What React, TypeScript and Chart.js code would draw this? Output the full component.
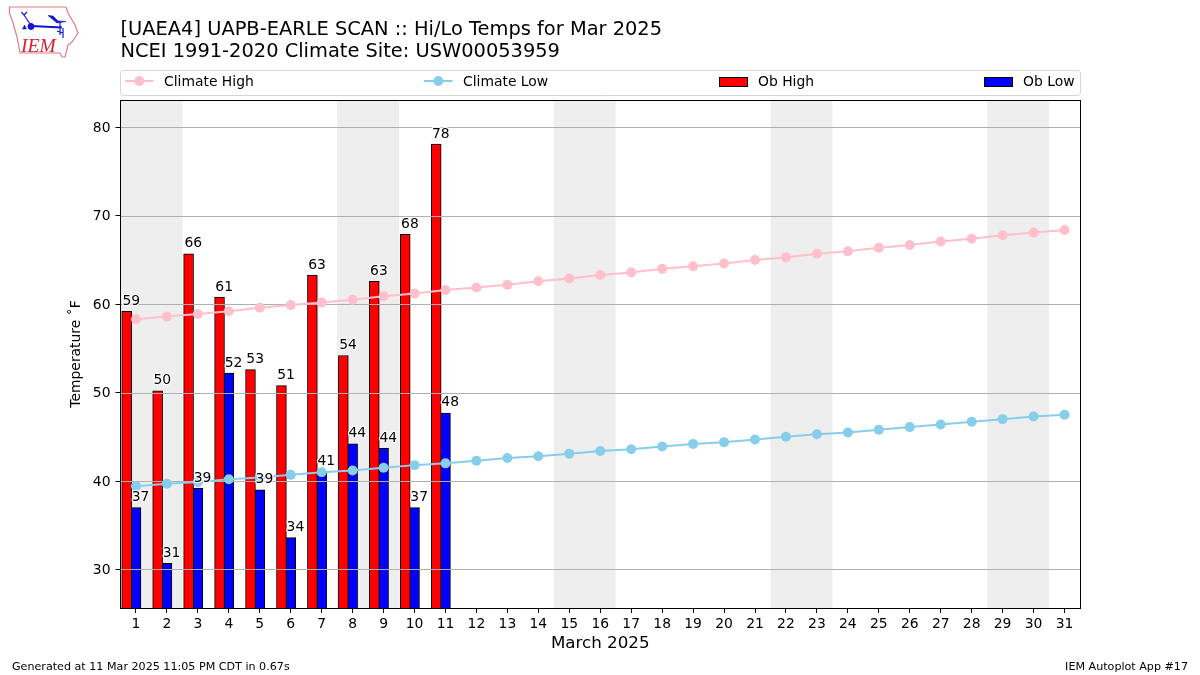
import React, { useEffect, useRef } from "react";
import { Chart, registerables } from "chart.js";

Chart.register(...registerables);

const FONT = "'DejaVu Sans', sans-serif";

const titleLines = [
  "[UAEA4] UAPB-EARLE SCAN :: Hi/Lo Temps for Mar 2025",
  "NCEI 1991-2020 Climate Site: USW00053959",
];
const footerLeft = "Generated at 11 Mar 2025 11:05 PM CDT in 0.67s";
const footerRight = "IEM Autoplot App #17";
const xTitle = "March 2025";
const yTitle = "Temperature ˚F";

const days = [1, 2, 3, 4, 5, 6, 7, 8, 9, 10, 11, 12, 13, 14, 15, 16, 17, 18, 19, 20, 21, 22, 23, 24, 25, 26, 27, 28, 29, 30, 31];
const yTicks = [30, 40, 50, 60, 70, 80];
const weekendStarts = [1, 8, 15, 22, 29];

const climateHigh = [58.3, 58.6, 58.9, 59.2, 59.6, 59.9, 60.2, 60.5, 60.9, 61.2, 61.6, 61.9, 62.2, 62.6, 62.9, 63.3, 63.6, 64.0, 64.3, 64.6, 65.0, 65.3, 65.7, 66.0, 66.4, 66.7, 67.1, 67.4, 67.8, 68.1, 68.4];
const climateLow = [39.4, 39.7, 39.9, 40.2, 40.4, 40.7, 41.0, 41.2, 41.5, 41.8, 42.0, 42.3, 42.6, 42.8, 43.1, 43.4, 43.6, 43.9, 44.2, 44.4, 44.7, 45.0, 45.3, 45.5, 45.8, 46.1, 46.4, 46.7, 47.0, 47.3, 47.5];
const obHigh = [59.2, 50.2, 65.7, 60.8, 52.6, 50.8, 63.3, 54.2, 62.6, 67.9, 78.1];
const obLow = [37.0, 30.7, 39.2, 52.2, 39.0, 33.6, 41.1, 44.2, 43.7, 37.0, 47.7];
const obHighLabels = [59, 50, 66, 61, 53, 51, 63, 54, 63, 68, 78];
const obLowLabels = [37, 31, 39, 52, 39, 34, 41, 44, 44, 37, 48];

const HIGH_SHIFT = -0.3;
const LABEL_SHIFT = 0.15;

const iemPlugin = {
  id: "iemDecor",
  beforeDraw(chart: any) {
    const { ctx, chartArea: a, scales } = chart;
    ctx.save();
    ctx.fillStyle = "#ffffff";
    ctx.fillRect(0, 0, chart.width, chart.height);
    ctx.fillStyle = "#eeeeee";
    for (const d of weekendStarts) {
      const x0 = scales.x.getPixelForValue(d - 0.5);
      const x1 = scales.x.getPixelForValue(d + 1.5);
      ctx.fillRect(x0, a.top, x1 - x0, a.bottom - a.top);
    }
    ctx.restore();
  },
  beforeDatasetDraw(chart: any, args: any) {
    // grid lies above the bars but below the lines
    if (args.index !== 1) return;
    const { ctx, chartArea: a, scales } = chart;
    ctx.save();
    ctx.strokeStyle = "#b0b0b0";
    ctx.lineWidth = 1.1;
    ctx.beginPath();
    for (const v of yTicks) {
      const y = Math.round(scales.y.getPixelForValue(v)) + 0.5;
      ctx.moveTo(a.left, y);
      ctx.lineTo(a.right, y);
    }
    ctx.stroke();
    ctx.restore();
  },
  afterDatasetsDraw(chart: any) {
    const { ctx, scales } = chart;
    ctx.save();
    ctx.font = `13.9px ${FONT}`;
    ctx.textAlign = "center";
    ctx.textBaseline = "alphabetic";
    ctx.lineJoin = "round";
    const put = (text: string, x: number, y: number) => {
      ctx.strokeStyle = "rgba(255,255,255,0.85)";
      ctx.lineWidth = 2.5;
      ctx.strokeText(text, x, y);
      ctx.fillStyle = "#000000";
      ctx.fillText(text, x, y);
    };
    obHigh.forEach((v, i) => {
      put(String(obHighLabels[i]), scales.x.getPixelForValue(days[i] - LABEL_SHIFT), scales.y.getPixelForValue(v) - 6.5);
    });
    obLow.forEach((v, i) => {
      put(String(obLowLabels[i]), scales.x.getPixelForValue(days[i] + LABEL_SHIFT), scales.y.getPixelForValue(v) - 6.5);
    });
    ctx.restore();
  },
  afterDraw(chart: any) {
    const { ctx, chartArea: a } = chart;
    ctx.save();
    // frame
    ctx.strokeStyle = "#000000";
    ctx.lineWidth = 1;
    ctx.strokeRect(
      Math.floor(a.left) + 0.5,
      Math.round(a.top) + 0.5,
      Math.floor(a.right) - Math.floor(a.left),
      Math.round(a.bottom) - Math.round(a.top),
    );

    // legend
    ctx.strokeStyle = "#d5d5d5";
    ctx.lineWidth = 1;
    ctx.beginPath();
    ctx.roundRect(120.5, 70.5, 960, 25, 3);
    ctx.stroke();
    ctx.font = `13.9px ${FONT}`;
    ctx.textAlign = "left";
    ctx.textBaseline = "alphabetic";
    const ds = chart.data.datasets;
    const items = [
      { d: ds[0], x: 125 },
      { d: ds[1], x: 424 },
      { d: ds[2], x: 719 },
      { d: ds[3], x: 984 },
    ];
    for (const it of items) {
      if (it.d.type === "line") {
        ctx.strokeStyle = it.d.borderColor;
        ctx.lineWidth = 2;
        ctx.beginPath();
        ctx.moveTo(it.x, 81);
        ctx.lineTo(it.x + 28.5, 81);
        ctx.stroke();
        ctx.fillStyle = it.d.borderColor;
        ctx.beginPath();
        ctx.arc(it.x + 14.3, 81, 5, 0, Math.PI * 2);
        ctx.fill();
      } else {
        ctx.fillStyle = it.d.backgroundColor;
        ctx.fillRect(it.x + 0.5, 77.5, 28, 9);
        ctx.strokeStyle = "#000000";
        ctx.lineWidth = 1;
        ctx.strokeRect(it.x + 0.5, 77.5, 28, 9);
      }
      ctx.fillStyle = "#000000";
      ctx.fillText(it.d.label, it.x + 39, 86);
    }

    // footer
    ctx.font = `11.13px ${FONT}`;
    ctx.fillStyle = "#000000";
    ctx.textAlign = "left";
    ctx.fillText(footerLeft, 12, 670);
    ctx.textAlign = "right";
    ctx.fillText(footerRight, 1188, 670);
    ctx.restore();
  },
};

function Logo() {
  return (
    <svg width={90} height={65} viewBox="0 0 90 65" style={{ position: "absolute", left: 0, top: 0 }}>
      <path
        d="M9.5 7 L66 7 L68 13 L75 25 L78 33 L72 42 L68 45 L65 57 L62 57 L60 53 L20 53 L17 37 L13 23 L9.5 13 Z"
        fill="none"
        stroke="#e07c84"
        strokeWidth={1.2}
      />
      <g stroke="#1414d2" fill="#1414d2">
        <path d="M31 26 L62 27.5" strokeWidth={2} fill="none" />
        <circle cx={31} cy={26.5} r={3} />
        <path d="M30 24 L24 15 L21.5 12 M24 15 L27 12" strokeWidth={1.2} fill="none" />
        <path d="M48 15.5 L53 16 L58 21 L66 21.5 L57 23 Z" strokeWidth={0.6} />
        <path d="M60 22 L60 35 M57 31 L63 33 M63 28 L63 38" strokeWidth={1.2} fill="none" />
        <path d="M24.5 25 L26.5 29 L22.5 29 Z" strokeWidth={0.5} />
      </g>
      <text x={21} y={52} fontFamily="'Liberation Serif', serif" fontStyle="italic" fontSize={19.5} fill="#d8202c">
        IEM
      </text>
    </svg>
  );
}

export default function App() {
  const ref = useRef<HTMLCanvasElement>(null);
  useEffect(() => {
    if (!ref.current) return;
    const line = (label: string, data: number[], color: string) => ({
      type: "line" as const,
      label,
      data: data.map((y, i) => ({ x: days[i], y })),
      borderColor: color,
      backgroundColor: color,
      borderWidth: 2,
      pointRadius: 5,
      pointBorderWidth: 0,
      pointBackgroundColor: color,
      tension: 0,
      order: 0,
    });
    const bar = (label: string, data: number[], color: string, shift: number) => ({
      type: "bar" as const,
      label,
      data: data.map((y, i) => ({ x: days[i] + shift, y })),
      backgroundColor: color,
      borderColor: "#000000",
      borderWidth: 1,
      barThickness: 9.9,
      grouped: false,
      order: 1,
    });
    const chart = new Chart(ref.current, {
      type: "bar",
      data: {
        datasets: [
          line("Climate High", climateHigh, "#ffc0cb"),
          line("Climate Low", climateLow, "#87ceeb"),
          bar("Ob High", obHigh, "#ff0000", HIGH_SHIFT),
          bar("Ob Low", obLow, "#0000ff", 0),
        ],
      } as any,
      options: {
        animation: false,
        responsive: false,
        layout: { padding: { top: 19, right: 120, bottom: 18, left: 0 } },
        plugins: {
          legend: { display: false },
          tooltip: { enabled: false },
          title: {
            display: true,
            text: titleLines,
            align: "start",
            fullSize: false,
            color: "#000000",
            font: { family: FONT, size: 19.42, weight: "normal", lineHeight: 1.13 },
            padding: { top: 0, bottom: 37.1 },
          },
        },
        scales: {
          x: {
            type: "linear",
            min: 0.5,
            max: 31.5,
            offset: false,
            afterBuildTicks: (axis: any) => {
              axis.ticks = days.map((value) => ({ value }));
            },
            afterFit: (axis: any) => {
              axis.height = 49;
            },
            ticks: {
              autoSkip: false,
              maxRotation: 0,
              color: "#000000",
              padding: 3,
              font: { family: FONT, size: 13.9 },
            },
            grid: { offset: false, drawOnChartArea: false, drawTicks: true, tickLength: 5, tickColor: "#000000", tickWidth: 1 },
            border: { display: false },
            title: {
              display: true,
              text: xTitle,
              color: "#000000",
              font: { family: FONT, size: 16.7 },
              padding: { top: 0, bottom: 3 },
            },
          },
          y: {
            type: "linear",
            min: 25.64,
            max: 83.1,
            afterBuildTicks: (axis: any) => {
              axis.ticks = yTicks.map((value) => ({ value }));
            },
            afterFit: (axis: any) => {
              axis.width = 120.5;
            },
            ticks: {
              color: "#000000",
              padding: 5,
              labelOffset: 1,
              font: { family: FONT, size: 13.9 },
            },
            grid: { drawOnChartArea: false, drawTicks: true, tickLength: 5, tickColor: "#000000", tickWidth: 1 },
            border: { display: false },
            title: {
              display: true,
              text: yTitle,
              color: "#000000",
              font: { family: FONT, size: 13.9 },
              padding: { top: 68, bottom: 0 },
            },
          },
        },
      },
      plugins: [iemPlugin],
    } as any);
    return () => chart.destroy();
  }, []);
  return (
    <div style={{ position: "absolute", left: 0, top: 0, width: 1200, height: 675 }}>
      <canvas ref={ref} width={1200} height={675} style={{ display: "block" }} />
      <Logo />
    </div>
  );
}
